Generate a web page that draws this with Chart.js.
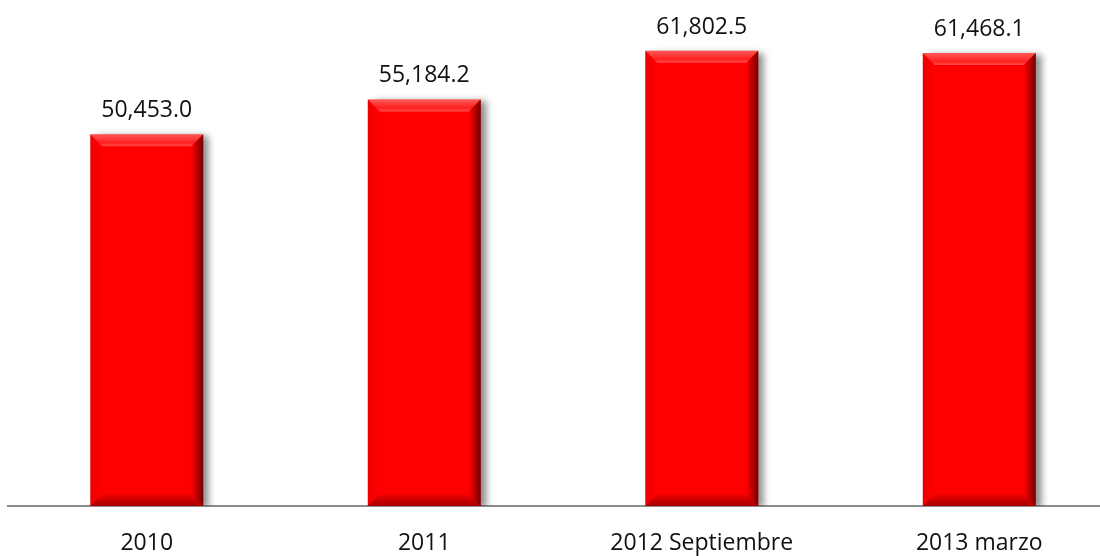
<!DOCTYPE html>
<html>
<head>
<meta charset="utf-8">
<script src="https://cdn.jsdelivr.net/npm/chart.js@4/dist/chart.umd.min.js"></script>
<style>
  html, body { margin: 0; padding: 0; background: #fff; overflow: hidden; }
  #wrap { position: relative; width: 1118px; height: 556px; }
</style>
</head>
<body>
<div id="wrap"><canvas id="barChart"></canvas></div>
<script>
// values
const categories = ['2010', '2011', '2012 Septiembre', '2013 marzo'];
const totals = [50453.0, 55184.2, 61802.5, 61468.1];
const yMax = 68000;

const fontFamily = '"Open Sans", Lato, sans-serif';

// drop shadow to the right of each bar
const shadowPlugin = {
    id: 'barShadow',
    beforeDatasetDraw(chart) {
        const ctx = chart.ctx;
        ctx.save();
        ctx.shadowColor = 'rgba(0, 0, 0, 0.45)';
        ctx.shadowBlur = 7;
        ctx.shadowOffsetX = 6;
        ctx.shadowOffsetY = 2;
    },
    afterDatasetDraw(chart) {
        chart.ctx.restore();
    }
};

// bevel edges and value labels on top of the bars
const bevelPlugin = {
    id: 'bevel',
    afterDatasetsDraw(chart) {
        const ctx = chart.ctx;
        const meta = chart.getDatasetMeta(0);
        const b = 12;
        meta.data.forEach((bar, i) => {
            const l = bar.x - bar.width / 2;
            const r = bar.x + bar.width / 2;
            const t = bar.y;
            const bt = bar.base;

            ctx.save();
            // top
            let g = ctx.createLinearGradient(0, t, 0, t + b);
            g.addColorStop(0, 'rgba(255,255,255,0.35)');
            g.addColorStop(0.7, 'rgba(255,255,255,0.12)');
            g.addColorStop(1, 'rgba(255,255,255,0.3)');
            ctx.fillStyle = g;
            ctx.beginPath();
            ctx.moveTo(l, t); ctx.lineTo(r, t); ctx.lineTo(r - b, t + b); ctx.lineTo(l + b, t + b);
            ctx.closePath(); ctx.fill();

            // right
            g = ctx.createLinearGradient(r - b, 0, r, 0);
            g.addColorStop(0, 'rgba(0,0,0,0)');
            g.addColorStop(1, 'rgba(0,0,0,0.55)');
            ctx.fillStyle = g;
            ctx.beginPath();
            ctx.moveTo(r, t); ctx.lineTo(r, bt); ctx.lineTo(r - b, bt - b); ctx.lineTo(r - b, t + b);
            ctx.closePath(); ctx.fill();

            // bottom
            g = ctx.createLinearGradient(0, bt - b, 0, bt);
            g.addColorStop(0, 'rgba(0,0,0,0.05)');
            g.addColorStop(1, 'rgba(0,0,0,0.35)');
            ctx.fillStyle = g;
            ctx.beginPath();
            ctx.moveTo(l, bt); ctx.lineTo(r, bt); ctx.lineTo(r - b, bt - b); ctx.lineTo(l + b, bt - b);
            ctx.closePath(); ctx.fill();

            // left
            g = ctx.createLinearGradient(l, 0, l + b, 0);
            g.addColorStop(0, 'rgba(0,0,0,0.08)');
            g.addColorStop(1, 'rgba(0,0,0,0)');
            ctx.fillStyle = g;
            ctx.beginPath();
            ctx.moveTo(l, t); ctx.lineTo(l + b, t + b); ctx.lineTo(l + b, bt - b); ctx.lineTo(l, bt);
            ctx.closePath(); ctx.fill();
            ctx.restore();

            // value label
            ctx.save();
            ctx.font = '23px ' + fontFamily;
            ctx.fillStyle = '#111';
            ctx.textAlign = 'center';
            ctx.textBaseline = 'alphabetic';
            const txt = totals[i].toLocaleString('en-US', { minimumFractionDigits: 1, maximumFractionDigits: 1 });
            ctx.fillText(txt, bar.x, t - 17);
            ctx.restore();
        });
    }
};

const ctx = document.getElementById('barChart').getContext('2d');
new Chart(ctx, {
    type: 'bar',
    data: {
        labels: categories,
        datasets: [{
            data: totals,
            backgroundColor: '#ff0000',
            borderWidth: 0,
            barPercentage: 0.407,
            categoryPercentage: 1
        }]
    },
    options: {
        responsive: true,
        maintainAspectRatio: false,
        animation: false,
        layout: { padding: { left: 8, top: 5, right: 0, bottom: 0 } },
        plugins: {
            legend: { display: false },
            tooltip: { enabled: false }
        },
        scales: {
            x: {
                grid: { display: false, drawTicks: false },
                border: { display: true, color: '#8c8c8c', width: 2 },
                ticks: {
                    color: '#111',
                    padding: 24,
                    maxRotation: 0,
                    font: { family: fontFamily, size: 23 }
                },
                afterFit(scale) { scale.height = 50; }
            },
            y: {
                display: false,
                min: 0,
                max: yMax
            }
        }
    },
    plugins: [shadowPlugin, bevelPlugin]
});
</script>
</body>
</html>
